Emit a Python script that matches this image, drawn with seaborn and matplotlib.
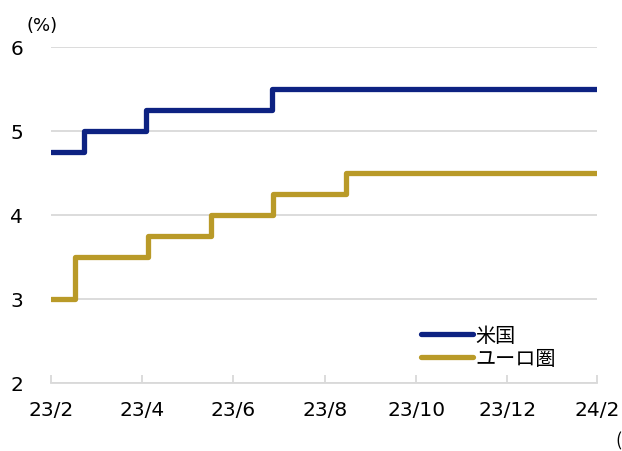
import pandas as pd
import matplotlib.pyplot as plt
import seaborn as sns

# policy rate change dates (last entry = end of period) and levels, %
us_dates = ["2023-02-28", "2023-03-22", "2023-05-03", "2023-07-26", "2024-02-29"]
us_rates = [4.75, 5.00, 5.25, 5.50, 5.50]
eu_dates = ["2023-02-28", "2023-03-16", "2023-05-04", "2023-06-15",
            "2023-07-27", "2023-09-14", "2024-02-29"]
eu_rates = [3.00, 3.50, 3.75, 4.00, 4.25, 4.50, 4.50]

tick_dates = ["2023-02-28", "2023-04-30", "2023-06-30", "2023-08-31",
              "2023-10-31", "2023-12-31", "2024-02-29"]
tick_labels = ["23/2", "23/4", "23/6", "23/8", "23/10", "23/12", "24/2"]

us = pd.DataFrame({"date": pd.to_datetime(us_dates), "rate": us_rates})
eu = pd.DataFrame({"date": pd.to_datetime(eu_dates), "rate": eu_rates})

sns.set_style("white")
plt.rcParams["font.family"] = ["DejaVu Sans", "Noto Sans CJK JP"]
plt.rcParams["text.color"] = "black"
plt.rcParams["xtick.labelcolor"] = "black"
plt.rcParams["ytick.labelcolor"] = "black"
jp = ["Noto Sans CJK JP", "DejaVu Sans"]

fig = plt.figure(figsize=(6.22, 4.52), dpi=100)
ax = fig.add_axes([51 / 622, 68 / 452, 546 / 622, 336 / 452])

sns.lineplot(data=us, x="date", y="rate", ax=ax, color="#0D2282", lw=3.8,
             drawstyle="steps-post", label="米国", solid_capstyle="round",
             solid_joinstyle="round", zorder=3)
sns.lineplot(data=eu, x="date", y="rate", ax=ax, color="#B99A28", lw=3.8,
             drawstyle="steps-post", label="ユーロ圏", solid_capstyle="round",
             solid_joinstyle="round", zorder=3)

ax.set_ylim(2, 6)
ax.set_yticks([2, 3, 4, 5, 6])
ax.set_xlim(pd.Timestamp("2023-02-28"), pd.Timestamp("2024-02-29"))
ax.set_xticks(pd.to_datetime(tick_dates))
ax.set_xticklabels(tick_labels)
ax.grid(axis="y", color="#D9D9D9", lw=1.3)
ax.grid(axis="x", visible=False)
for s in ["left", "right", "top"]:
    ax.spines[s].set_visible(False)
ax.spines["bottom"].set_color("#D9D9D9")
ax.spines["bottom"].set_linewidth(1.3)
ax.tick_params(axis="x", direction="in", length=6, width=1.3, color="#D9D9D9",
               labelsize=14.5, pad=12, bottom=True, labelcolor="black")
ax.tick_params(axis="y", length=0, labelsize=14.5, pad=20, labelcolor="black")
ax.set_xlabel("")
ax.set_ylabel("")

fig.text(26 / 622, 1 - 26 / 452, "(%)", fontsize=13, va="center", ha="left")
fig.text(615 / 622, 1 - 440 / 452, "(年/月)", fontsize=13, va="center",
         ha="left", family=jp)

leg = ax.legend(loc="lower right", bbox_to_anchor=(0.95, 0.0), frameon=False,
                prop={"family": jp, "size": 14.5}, handlelength=2.6,
                handletextpad=0.1, labelspacing=0.1, borderaxespad=0.3)
for t in leg.get_texts():
    t.set_color("black")

fig.savefig("out.png", dpi=100)
